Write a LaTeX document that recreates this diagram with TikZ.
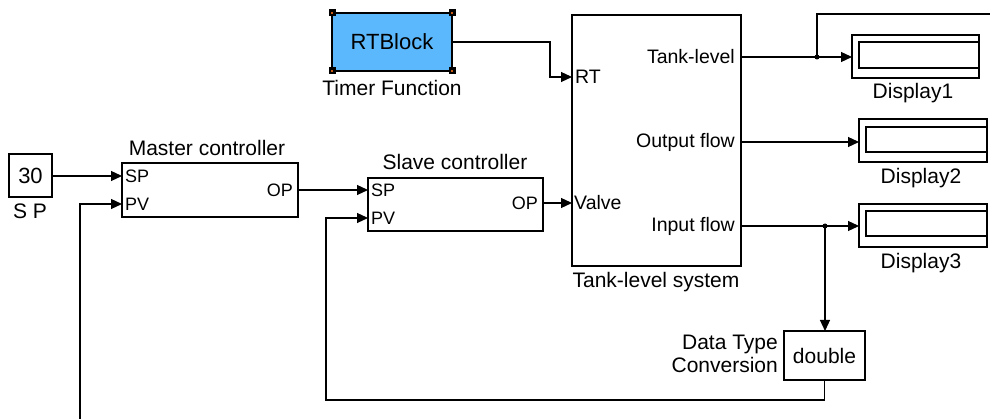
\documentclass[tikz,border=0pt]{standalone}
\usepackage{fontspec}
\setmainfont{Liberation Sans}
\usetikzlibrary{arrows.meta}
\definecolor{rtblue}{RGB}{92,184,252}
\definecolor{handlec}{RGB}{200,90,20}
\newcommand{\myfs}[1]{\fontsize{#1}{#1}\selectfont}
\begin{document}
\begin{tikzpicture}[x=1pt,y=-1pt,
  blk/.style={draw, line width=1.2pt, inner sep=0pt, outer sep=0pt},
  wire/.style={line width=1.2pt},
  arr/.style={wire, -{Triangle[length=11pt,width=10pt]}},
  lbl/.style={font=\myfs{21}, inner sep=0pt},
  port/.style={font=\myfs{18}, inner sep=0pt},
  tport/.style={font=\myfs{19.5}, inner sep=0pt},
  dot/.style={fill, circle, inner sep=0pt, minimum size=5pt}
]
\useasboundingbox (0,0) rectangle (990,419);
\fill[white] (0,0) rectangle (990,419);

% Constant SP
\node[blk, minimum width=43pt, minimum height=43pt, font=\myfs{22}] (sp) at (30.5,175.5) {30};
\node[lbl] (spl) at (30,211) {S P};

% Master controller
\node[blk, minimum width=176pt, minimum height=54pt] (master) at (210,190) {};
\node[lbl] (masterl) at (207,148) {Master controller};
\coordinate (mSP) at (master.west |- 0,176);
\coordinate (mPV) at (master.west |- 0,204);
\coordinate (mOP) at (master.east |- 0,190);
\node[port, anchor=west] (mSPl) at ([xshift=3pt]mSP) {SP};
\node[port, anchor=west] (mPVl) at ([xshift=3pt]mPV) {PV};
\node[port, anchor=east] (mOPl) at ([xshift=-5pt]mOP) {OP};

% Slave controller
\node[blk, minimum width=175pt, minimum height=53pt] (slave) at (455.5,204.5) {};
\node[lbl] (slavel) at (455,162) {Slave controller};
\coordinate (sSP) at (slave.west |- 0,190);
\coordinate (sPV) at (slave.west |- 0,218);
\coordinate (sOP) at (slave.east |- 0,203);
\node[port, anchor=west] (sSPl) at ([xshift=3pt]sSP) {SP};
\node[port, anchor=west] (sPVl) at ([xshift=3pt]sPV) {PV};
\node[port, anchor=east] (sOPl) at ([xshift=-5pt]sOP) {OP};

% RTBlock
\node[blk, fill=rtblue, minimum width=120pt, minimum height=58pt, font=\myfs{22}] (rt) at (392,42) {RTBlock};
\node[lbl] (rtl) at (392,88) {Timer Function};
\foreach \a in {north west,north east,south west,south east}{
  \fill[black] (rt.\a) +(-3.5,-3.5) rectangle +(3.5,3.5);
  \fill[handlec] (rt.\a) +(-1.2,-1.2) rectangle +(1.2,1.2);
}

% Tank-level system
\node[blk, minimum width=169pt, minimum height=251pt] (tank) at (656.5,140.5) {};
\node[lbl] (tankl) at (656,282) {Tank-level system};
\coordinate (tRT) at (tank.west |- 0,77);
\coordinate (tVA) at (tank.west |- 0,203);
\coordinate (tTL) at (tank.east |- 0,57);
\coordinate (tOF) at (tank.east |- 0,142);
\coordinate (tIF) at (tank.east |- 0,226);
\node[tport, anchor=west] (tRTl) at ([xshift=3pt]tRT) {RT};
\node[tport, anchor=west] (tVAl) at ([xshift=2pt]tVA) {Valve};
\node[tport, anchor=east] (tTLl) at ([xshift=-6pt]tTL) {Tank-level};
\node[tport, anchor=east] (tOFl) at ([xshift=-6pt]tOF) {Output flow};
\node[tport, anchor=east] (tIFl) at ([xshift=-6pt]tIF) {Input flow};

% Displays
\node[blk, minimum width=127pt, minimum height=43pt] (d1) at (915.5,56.5) {};
\node[blk, minimum width=120pt, minimum height=26pt] (d1i) at (919,55) {};
\node[lbl] (d1l) at (913,93) {Display1};
\node[blk, minimum width=128pt, minimum height=43pt] (d2) at (923,140.5) {};
\node[blk, minimum width=121pt, minimum height=25pt] (d2i) at (926.5,139.5) {};
\node[lbl] (d2l) at (921,178) {Display2};
\node[blk, minimum width=128pt, minimum height=43pt] (d3) at (923,225.5) {};
\node[blk, minimum width=121pt, minimum height=25pt] (d3i) at (926.5,223.5) {};
\node[lbl] (d3l) at (921,263) {Display3};

% Data type conversion
\node[blk, minimum width=81pt, minimum height=49pt, font=\myfs{21}] (dtc) at (824.5,355.5) {double};
\node[lbl, anchor=east, align=right] (dtcl) at (778,354) {Data Type\\[2pt]Conversion};

% Connectors
\coordinate (fb) at (80,419);
\coordinate (out1) at (990,14);
\coordinate (b1) at (817,57);
\coordinate (b2) at (825,226);
\coordinate (c1) at (550,42);
\coordinate (c2) at (326,400);

\draw[arr] (sp.east |- mSP) -- (mSP);
\draw[arr] (fb) |- (mPV);
\draw[arr] (mOP) -- (sSP);
\draw[arr] (sOP) -- (tVA);
\draw[arr] (rt.east) -- (c1) |- (tRT);
\draw[arr] (tTL) -- (tTL -| d1.west);
\draw[wire] (b1) |- (out1);
\node[dot] (b1d) at (b1) {};
\draw[arr] (tOF) -- (tOF -| d2.west);
\draw[arr] (tIF) -- (tIF -| d3.west);
\draw[arr] (b2) -- (b2 |- dtc.north);
\node[dot] (b2d) at (b2) {};
\draw[arr] (dtc.south) |- (c2) |- (sPV);
\end{tikzpicture}
\end{document}
